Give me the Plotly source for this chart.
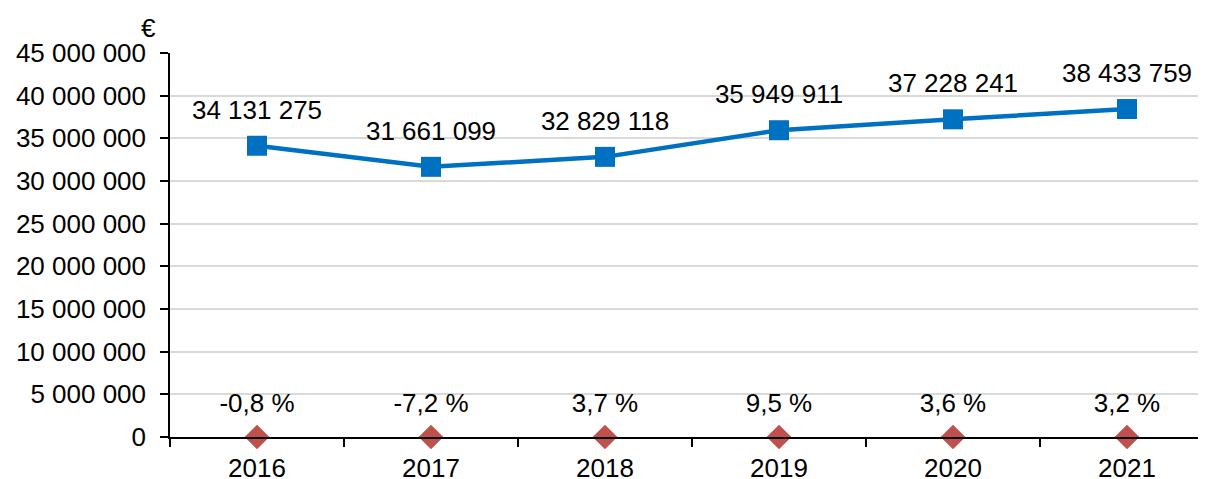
import plotly.graph_objects as go

years = ["2016", "2017", "2018", "2019", "2020", "2021"]
amounts = [34131275, 31661099, 32829118, 35949911, 37228241, 38433759]
pct_change = [-0.8, -7.2, 3.7, 9.5, 3.6, 3.2]
y_ticks = [0, 5000000, 10000000, 15000000, 20000000, 25000000, 30000000, 35000000, 40000000, 45000000]

FONT = "Liberation Sans, Arial, sans-serif"
FS = 26

def fmt_int(v):
    return f"{v:,}".replace(",", " ")

pct_y = [p / 100 for p in pct_change]

fig = go.Figure()

fig.add_trace(go.Scatter(
    x=years, y=amounts, mode="lines+markers",
    line=dict(color="#0070C0", width=4.5),
    marker=dict(symbol="square", size=20, color="#0070C0"),
    cliponaxis=False, showlegend=False, hoverinfo="skip"))

fig.add_trace(go.Scatter(
    x=years, y=pct_y, mode="markers",
    marker=dict(symbol="diamond", size=19, color="#C0504D"),
    cliponaxis=False, showlegend=False, hoverinfo="skip"))

# label traces (transparent markers give the text offset)
fig.add_trace(go.Scatter(
    x=years, y=amounts, mode="markers+text",
    text=[fmt_int(v) for v in amounts], textposition="top center",
    textfont=dict(family=FONT, size=FS, color="#000000"),
    marker=dict(size=31, color="rgba(0,0,0,0)"),
    cliponaxis=False, showlegend=False, hoverinfo="skip"))

fig.add_trace(go.Scatter(
    x=years, y=pct_y, mode="markers+text",
    text=[f"{p:.1f} %".replace(".", ",") for p in pct_change], textposition="top center",
    textfont=dict(family=FONT, size=FS, color="#000000"),
    marker=dict(size=28, color="rgba(0,0,0,0)"),
    cliponaxis=False, showlegend=False, hoverinfo="skip"))

fig.add_annotation(xref="paper", yref="paper", x=0, y=1, xshift=-22, yshift=25,
                   text="€", showarrow=False, xanchor="center", yanchor="middle",
                   font=dict(family=FONT, size=FS, color="#000000"))

# page body adds an 8px offset, so the figure is sized to the remaining area
fig.update_layout(
    width=1198, height=471,
    margin=dict(l=162, r=0, t=45, b=42),
    paper_bgcolor="white", plot_bgcolor="white",
    font=dict(family=FONT, size=FS, color="#000000"),
    xaxis=dict(type="category", range=[-0.5, 5.454], showgrid=False,
               showline=True, linecolor="#000000", linewidth=1.5,
               ticks="outside", tickson="boundaries", ticklen=8, tickwidth=1.5,
               tickcolor="#000000", tickfont=dict(size=FS), ticklabelstandoff=7,
               automargin=False, fixedrange=True),
    yaxis=dict(range=[-0.1, 45000000], tickvals=y_ticks,
               ticktext=[fmt_int(v) for v in y_ticks],
               showgrid=True, gridcolor="#D9D9D9", gridwidth=1.5,
               showline=True, linecolor="#000000", linewidth=1.5,
               ticks="outside", ticklen=8, tickwidth=1.5, tickcolor="#000000",
               ticklabelstandoff=9, automargin=False,
               zeroline=False, tickfont=dict(size=FS), fixedrange=True),
)

fig.write_html("out.html")
